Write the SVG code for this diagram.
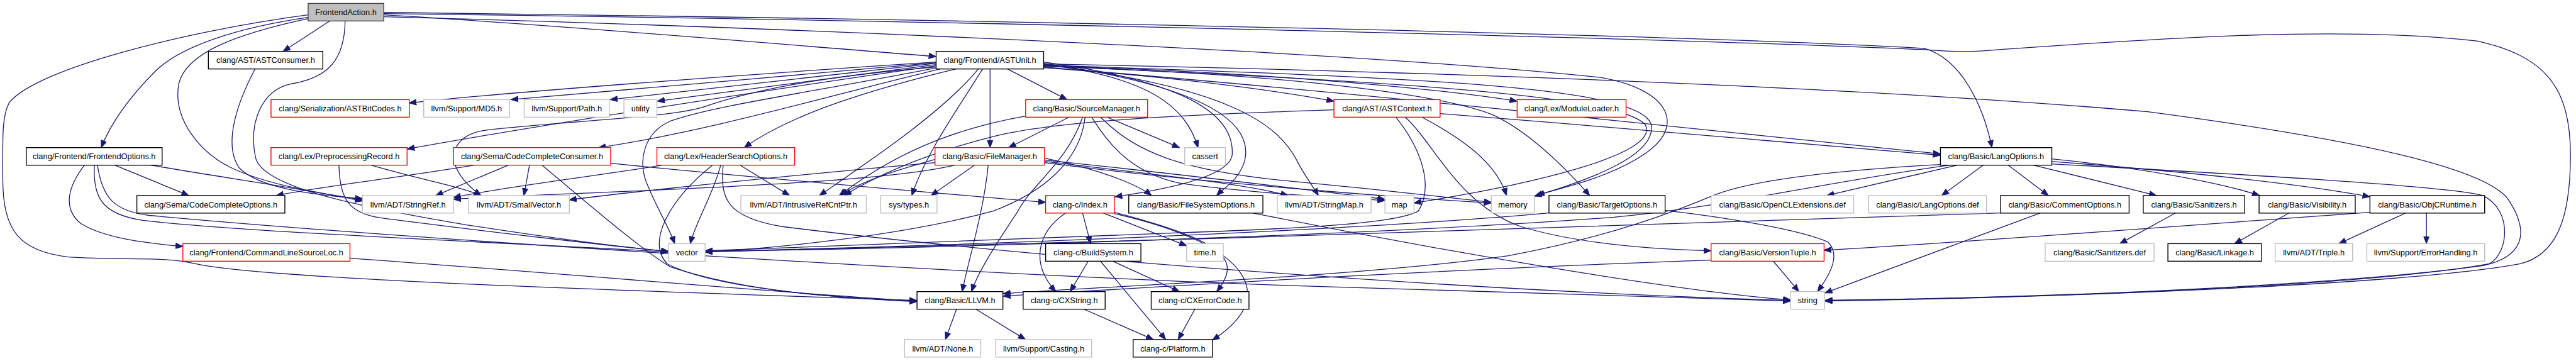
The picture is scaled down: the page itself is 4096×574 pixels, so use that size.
<svg xmlns="http://www.w3.org/2000/svg" width="4096" height="574" viewBox="0 0 4096 574">
<style>
.n rect{fill:#fff;stroke-width:1.4}
.b rect{stroke:#000}
.r rect{stroke:#f00}
.g rect{stroke:#bfbfbf}
.top rect{fill:#bfbfbf;stroke:#404040}
text{font-family:"Liberation Sans",Arial,Helvetica,sans-serif;font-size:13px;text-anchor:middle;fill:#000}
#edges path{fill:none;stroke:#191970;stroke-width:1.3;marker-end:url(#a)}
</style>
<defs>
<marker id="a" markerWidth="14" markerHeight="11" refX="12" refY="5" orient="auto" markerUnits="userSpaceOnUse">
<path d="M0.5,0.5 L12,5 L0.5,9.5 z" fill="#191970" stroke="#191970" stroke-width="1"/>
</marker>
</defs>
<rect width="4096" height="574" fill="#fff"/>
<g transform="scale(0.987)">
<g id="edges">
<path d="M531,34 L456,82.8"/>
<path d="M496,28 C380,45 290,75 250,115 C205,160 178,200 163,237.8"/>
<path d="M496,24 C300,50 60,110 15,165 C4,185 4,210 4.5,290 C5,370 30,405 110,414 C200,420 260,412 315,425 C420,448 900,465 1477,484"/>
<path d="M496,30 C380,55 300,85 288,135 C278,190 320,245 372,270 C430,298 520,312 584,322"/>
<path d="M556,34 C555,95 530,125 470,135 C420,145 400,200 412,255 C425,300 560,330 750,362 C900,385 1020,400 1077,405"/>
<path d="M618,24 C900,40 1300,75 1508,91"/>
<path d="M618,20 C1500,30 2700,55 3100,78 C3160,95 3195,170 3209,237.8"/>
<path d="M618,22 C1500,32 2700,62 3100,80 C3150,84 3180,84 3220,80 C3500,60 3780,42 3990,66 C4100,90 4141,140 4141,250 C4141,350 4120,410 4060,425 C3900,455 3400,478 2940,484"/>
<path d="M618,27 C1300,45 2200,85 2580,125 C2690,145 2710,200 2660,240 C2610,280 2530,300 2476,314"/>
<path d="M411,111 C385,160 358,230 385,270 C415,302 500,314 584,320"/>
<path d="M1508,100 C1200,120 800,150 659,166"/>
<path d="M1508,101 C1300,120 1000,145 823,160.5"/>
<path d="M1508,102 C1300,125 1100,148 983,160.5"/>
<path d="M1508,104 C1350,125 1150,150 1059,163"/>
<path d="M1508,106 C1200,150 850,205 656,240"/>
<path d="M1515,111 C1350,150 1150,210 964,238"/>
<path d="M1540,111 C1420,140 1280,180 1199,237.8"/>
<path d="M1595,111 L1595,237.8"/>
<path d="M1623,111 L1719,160.5"/>
<path d="M1576,111 C1520,180 1400,260 1320,315"/>
<path d="M1583,111 C1540,180 1490,250 1469,315"/>
<path d="M1681,100 C1900,130 1990,180 1985,250 C1980,285 1880,305 1796,317"/>
<path d="M1681,102 C1950,140 2020,200 2005,260 C1995,290 1975,300 1960,315"/>
<path d="M1681,104 C1980,140 2060,200 2090,260 C2100,280 2115,300 2124,315"/>
<path d="M1681,106 C2200,130 2600,150 2650,200 C2680,250 2450,300 2278,327"/>
<path d="M1681,105 C2300,125 2640,140 2660,200 C2670,250 2560,290 2472,316"/>
<path d="M1681,107 C2100,120 2330,155 2405,185 C2470,215 2530,280 2561,315"/>
<path d="M1681,109 C1900,125 2050,145 2149,163"/>
<path d="M1681,106 C2000,115 2300,140 2444,163"/>
<path d="M1681,108 C2200,150 2800,215 3126,248"/>
<path d="M1681,103 C2300,115 3000,140 3460,180 C3800,225 4000,270 4040,320 C4080,380 4060,415 4000,428 C3800,455 3400,478 2940,484"/>
<path d="M1681,103 C1850,125 1910,170 1930,237.8"/>
<path d="M1510,109 C1300,150 1150,170 1080,195 C1035,215 1030,260 1040,290 C1055,330 1075,360 1087,392.5"/>
<path d="M1508,108 C1300,125 1200,150 1140,170 C1090,190 900,195 780,210 C720,220 712,270 775,315"/>
<path d="M136,266 C110,300 100,335 130,360 C170,385 240,392 294.6,397"/>
<path d="M185,266 L304,315"/>
<path d="M243,266 C350,285 500,305 584,324"/>
<path d="M152,266 C150,320 165,345 230,355 C400,375 900,395 1077,406"/>
<path d="M157,266 C165,320 185,340 240,347 C600,380 1500,440 2080,460 C2500,475 2800,482 2884.6,485"/>
<path d="M564,416 C900,440 1300,475 1477,485"/>
<path d="M598,266 C680,290 740,300 775,315"/>
<path d="M546,266 C548,320 560,345 620,352 C800,375 1000,398 1077,405"/>
<path d="M764,266 C650,285 520,300 445,315"/>
<path d="M819,266 L702,315"/>
<path d="M853,266 L844,315"/>
<path d="M873,266 C950,330 1030,400 1080,430 C1200,470 1350,480 1477,485"/>
<path d="M984,263 C1200,285 1500,310 1684.5,326"/>
<path d="M1067,266 C950,285 820,300 730.6,318"/>
<path d="M1148,266 C1080,320 1040,390 1075,425 C1150,465 1350,480 1477,486"/>
<path d="M1161,266 C1150,310 1120,360 1112,392.5"/>
<path d="M1165,266 C1160,320 1170,350 1260,365 C1700,420 2400,470 2884.6,484"/>
<path d="M1192,266 L1272,315"/>
<path d="M1722,189 L1625,237.8"/>
<path d="M1652,187 C1550,205 1450,240 1352,315"/>
<path d="M1744,189 C1720,260 1660,300 1640,340 C1600,400 1575,440 1565,469.8"/>
<path d="M1748,189 C1740,260 1680,310 1600,340 C1450,380 1250,400 1136,406"/>
<path d="M1784,189 L1900,237.8"/>
<path d="M1759,189 C1790,240 1830,280 1900,295 C2000,310 2150,318 2231,323"/>
<path d="M1773,189 C1830,245 1900,275 2080,292 C2250,308 2350,320 2402.6,326"/>
<path d="M2149,177 C1900,185 1700,195 1600,220 C1480,250 1400,290 1360,315"/>
<path d="M2320,183 C2600,205 2900,230 3126,250"/>
<path d="M2249,189 C2290,240 2310,300 2285,340 C2250,360 2100,368 1900,375 C1600,385 1300,400 1136,404"/>
<path d="M2264,189 C2310,230 2350,330 2450,365 C2550,395 2680,402 2756.6,404"/>
<path d="M2291,189 C2350,220 2410,260 2427,315"/>
<path d="M3153,266 L2943,315"/>
<path d="M3195,266 L3128,315"/>
<path d="M3235,266 L3300,315"/>
<path d="M3276,266 L3474,315"/>
<path d="M3305,256 C3450,270 3580,295 3640,315"/>
<path d="M3305,260 C3500,275 3700,295 3818,317"/>
<path d="M3305,264 C3600,280 3950,300 4000,315 C4050,340 4040,410 4010,425 C3850,455 3400,478 2940,485"/>
<path d="M3126,265 C2950,275 2820,290 2760,315 C2700,340 2600,380 2430,412 C2200,445 1800,460 1616,473"/>
<path d="M3140,266 C2900,300 2800,330 2600,350 C2200,380 1500,400 1136,405"/>
<path d="M2683,339 C2780,350 2900,370 2945,390 C2965,410 2950,440 2928,469.8"/>
<path d="M2495,343 C2200,370 1600,395 1136,405"/>
<path d="M3223,343 C2800,360 1800,390 1136,406"/>
<path d="M3287,343 L2940,472"/>
<path d="M1683,255 C1760,270 1830,295 1855,315"/>
<path d="M1592,266 C1585,340 1560,420 1550,469.8"/>
<path d="M1506,257 C1440,275 1380,295 1355,315"/>
<path d="M1506,262 C1300,280 1050,305 917,322"/>
<path d="M1538,266 C1400,300 900,310 730.6,321"/>
<path d="M1683,260 C1850,280 2000,295 2075,315"/>
<path d="M1683,262 C1900,290 2200,315 2402.6,327"/>
<path d="M1683,258 C1900,280 2100,305 2231,321"/>
<path d="M1570,266 L1500,315"/>
<path d="M2018,343 C2300,400 2700,470 2884.6,483"/>
<path d="M1744,343 L1757,392.5"/>
<path d="M1717,343 C1670,375 1660,425 1701,469.8"/>
<path d="M1777,343 L1911.7,396"/>
<path d="M1795,342 C1980,390 2000,420 1960,469.8"/>
<path d="M1795,344 C2020,395 2060,480 1953,548"/>
<path d="M1753,421 L1724,469.8"/>
<path d="M1773,421 L1878,547"/>
<path d="M1793,421 L1900,469.8"/>
<path d="M1746,498 L1858,547"/>
<path d="M1925,498 L1898,547"/>
<path d="M1541,498 L1523,547"/>
<path d="M1572,498 L1652,547"/>
<path d="M2857,421 L2898,469.8"/>
<path d="M2757,419 C2300,435 1900,460 1616,477"/>
<path d="M3505,343 L3415,392.5"/>
<path d="M3688,343 L3600,392.5"/>
<path d="M3818,342 C3500,365 3100,395 2938.6,403"/>
<path d="M3876,343 L3768,392.5"/>
<path d="M3909,343 L3909,392.5"/>
</g>
<g id="n_FrontendAction" class="n top"><rect x="496.4" y="5.5" width="121.9" height="28.3"/><text x="557.3" y="24.5">FrontendAction.h</text></g>
<g id="n_ASTConsumer" class="n b"><rect x="335.7" y="82.8" width="184.4" height="28.3"/><text x="427.9" y="101.8">clang/AST/ASTConsumer.h</text></g>
<g id="n_ASTUnit" class="n b"><rect x="1508.1" y="82.8" width="173.2" height="28.3"/><text x="1594.7" y="101.8">clang/Frontend/ASTUnit.h</text></g>
<g id="n_ASTBitCodes" class="n r"><rect x="436.6" y="160.5" width="222.8" height="28.3"/><text x="548" y="179.5">clang/Serialization/ASTBitCodes.h</text></g>
<g id="n_MD5" class="n g"><rect x="682.6" y="160.5" width="138.2" height="28.3"/><text x="751.7" y="179.5">llvm/Support/MD5.h</text></g>
<g id="n_Path" class="n g"><rect x="844.5" y="160.5" width="137" height="28.3"/><text x="913" y="179.5">llvm/Support/Path.h</text></g>
<g id="n_utility" class="n g"><rect x="1005.2" y="160.5" width="53.1" height="28.3"/><text x="1031.8" y="179.5">utility</text></g>
<g id="n_SourceManager" class="n r"><rect x="1652.3" y="160.5" width="196.5" height="28.3"/><text x="1750.5" y="179.5">clang/Basic/SourceManager.h</text></g>
<g id="n_ASTContext" class="n r"><rect x="2149" y="160.5" width="171" height="28.3"/><text x="2234.5" y="179.5">clang/AST/ASTContext.h</text></g>
<g id="n_ModuleLoader" class="n r"><rect x="2444.1" y="160.5" width="175.5" height="28.3"/><text x="2531.8" y="179.5">clang/Lex/ModuleLoader.h</text></g>
<g id="n_FrontendOptions" class="n b"><rect x="42.4" y="237.8" width="218.8" height="28.3"/><text x="151.8" y="256.8">clang/Frontend/FrontendOptions.h</text></g>
<g id="n_PreprocessingRecord" class="n r"><rect x="436.6" y="237.8" width="219.2" height="28.3"/><text x="546.2" y="256.8">clang/Lex/PreprocessingRecord.h</text></g>
<g id="n_CodeCompleteConsumer" class="n r"><rect x="730.6" y="237.8" width="253.2" height="28.3"/><text x="857.2" y="256.8">clang/Sema/CodeCompleteConsumer.h</text></g>
<g id="n_HeaderSearchOptions" class="n r"><rect x="1058.3" y="237.8" width="221.9" height="28.3"/><text x="1169.2" y="256.8">clang/Lex/HeaderSearchOptions.h</text></g>
<g id="n_FileManager" class="n r"><rect x="1506.3" y="237.8" width="176.4" height="28.3"/><text x="1594.5" y="256.8">clang/Basic/FileManager.h</text></g>
<g id="n_cassert" class="n g"><rect x="1908.6" y="237.8" width="65.6" height="28.3"/><text x="1941.4" y="256.8">cassert</text></g>
<g id="n_LangOptions" class="n b"><rect x="3126" y="237.8" width="179.5" height="28.3"/><text x="3215.7" y="256.8">clang/Basic/LangOptions.h</text></g>
<g id="n_CodeCompleteOptions" class="n b"><rect x="220.5" y="315" width="238.4" height="28.3"/><text x="339.7" y="334">clang/Sema/CodeCompleteOptions.h</text></g>
<g id="n_StringRef" class="n g"><rect x="584" y="315" width="146.6" height="28.3"/><text x="657.3" y="334">llvm/ADT/StringRef.h</text></g>
<g id="n_SmallVector" class="n g"><rect x="754.7" y="315" width="162.5" height="28.3"/><text x="836" y="334">llvm/ADT/SmallVector.h</text></g>
<g id="n_IntrusiveRefCntPtr" class="n g"><rect x="1193.6" y="315" width="202" height="28.3"/><text x="1294.6" y="334">llvm/ADT/IntrusiveRefCntPtr.h</text></g>
<g id="n_systypes" class="n g"><rect x="1418.8" y="315" width="90.7" height="28.3"/><text x="1464.2" y="334">sys/types.h</text></g>
<g id="n_Index" class="n r"><rect x="1684.5" y="315" width="110.7" height="28.3"/><text x="1739.9" y="334">clang-c/Index.h</text></g>
<g id="n_FileSystemOptions" class="n b"><rect x="1818.4" y="315" width="216.1" height="28.3"/><text x="1926.5" y="334">clang/Basic/FileSystemOptions.h</text></g>
<g id="n_StringMap" class="n g"><rect x="2057.7" y="315" width="151.1" height="28.3"/><text x="2133.3" y="334">llvm/ADT/StringMap.h</text></g>
<g id="n_map" class="n g"><rect x="2231.2" y="315" width="46.8" height="28.3"/><text x="2254.6" y="334">map</text></g>
<g id="n_memory" class="n g"><rect x="2402.6" y="315" width="69.2" height="28.3"/><text x="2437.2" y="334">memory</text></g>
<g id="n_TargetOptions" class="n b"><rect x="2495.4" y="315" width="187.1" height="28.3"/><text x="2589" y="334">clang/Basic/TargetOptions.h</text></g>
<g id="n_OpenCLExtensions" class="n g"><rect x="2756.6" y="315" width="229.7" height="28.3"/><text x="2871.5" y="334">clang/Basic/OpenCLExtensions.def</text></g>
<g id="n_LangOptionsDef" class="n g"><rect x="3010.4" y="315" width="189.8" height="28.3"/><text x="3105.3" y="334">clang/Basic/LangOptions.def</text></g>
<g id="n_CommentOptions" class="n b"><rect x="3223" y="315" width="207" height="28.3"/><text x="3326.5" y="334">clang/Basic/CommentOptions.h</text></g>
<g id="n_Sanitizers" class="n b"><rect x="3452.8" y="315" width="163.4" height="28.3"/><text x="3534.5" y="334">clang/Basic/Sanitizers.h</text></g>
<g id="n_Visibility" class="n b"><rect x="3639.4" y="315" width="154.9" height="28.3"/><text x="3716.9" y="334">clang/Basic/Visibility.h</text></g>
<g id="n_ObjCRuntime" class="n b"><rect x="3818" y="315" width="184.8" height="28.3"/><text x="3910.4" y="334">clang/Basic/ObjCRuntime.h</text></g>
<g id="n_CommandLineSourceLoc" class="n r"><rect x="294.6" y="392.5" width="269.2" height="28.3"/><text x="429.2" y="411.5">clang/Frontend/CommandLineSourceLoc.h</text></g>
<g id="n_vector" class="n g"><rect x="1077" y="392.5" width="59" height="28.3"/><text x="1106.5" y="411.5">vector</text></g>
<g id="n_BuildSystem" class="n b"><rect x="1684.5" y="392.5" width="153.5" height="28.3"/><text x="1761.3" y="411.5">clang-c/BuildSystem.h</text></g>
<g id="n_time" class="n g"><rect x="1911.7" y="392.5" width="58.9" height="28.3"/><text x="1941.2" y="411.5">time.h</text></g>
<g id="n_VersionTuple" class="n r"><rect x="2756.6" y="392.5" width="182" height="28.3"/><text x="2847.6" y="411.5">clang/Basic/VersionTuple.h</text></g>
<g id="n_SanitizersDef" class="n g"><rect x="3294.8" y="392.5" width="175.4" height="28.3"/><text x="3382.5" y="411.5">clang/Basic/Sanitizers.def</text></g>
<g id="n_Linkage" class="n b"><rect x="3492.5" y="392.5" width="150.9" height="28.3"/><text x="3568" y="411.5">clang/Basic/Linkage.h</text></g>
<g id="n_Triple" class="n g"><rect x="3665.3" y="392.5" width="124.6" height="28.3"/><text x="3727.6" y="411.5">llvm/ADT/Triple.h</text></g>
<g id="n_ErrorHandling" class="n g"><rect x="3813" y="392.5" width="189.8" height="28.3"/><text x="3907.9" y="411.5">llvm/Support/ErrorHandling.h</text></g>
<g id="n_LLVM" class="n b"><rect x="1477.3" y="469.8" width="138.4" height="28.3"/><text x="1546.5" y="488.8">clang/Basic/LLVM.h</text></g>
<g id="n_CXString" class="n b"><rect x="1648.3" y="469.8" width="132.1" height="28.3"/><text x="1714.4" y="488.8">clang-c/CXString.h</text></g>
<g id="n_CXErrorCode" class="n b"><rect x="1854.6" y="469.8" width="157.5" height="28.3"/><text x="1933.4" y="488.8">clang-c/CXErrorCode.h</text></g>
<g id="n_string" class="n g"><rect x="2884.6" y="469.8" width="54.9" height="28.3"/><text x="2912" y="488.8">string</text></g>
<g id="n_None" class="n g"><rect x="1457.2" y="547" width="122.8" height="28.3"/><text x="1518.6" y="566">llvm/ADT/None.h</text></g>
<g id="n_Casting" class="n g"><rect x="1604.1" y="547" width="154.5" height="28.3"/><text x="1681.4" y="566">llvm/Support/Casting.h</text></g>
<g id="n_Platform" class="n b"><rect x="1825.5" y="547" width="127.7" height="28.3"/><text x="1889.4" y="566">clang-c/Platform.h</text></g>
</g>
</svg>
